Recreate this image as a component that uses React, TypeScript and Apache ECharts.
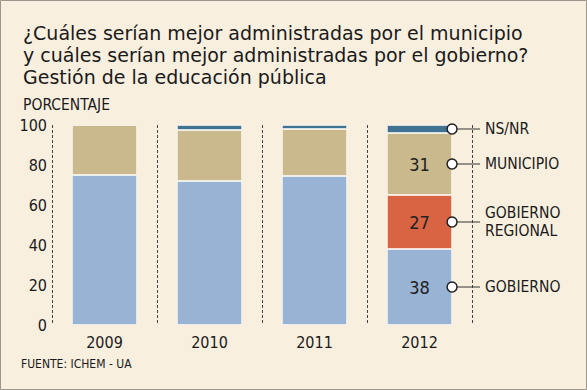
import React, { useEffect, useRef } from "react";
import * as echarts from "echarts";

const categories = ["2009", "2010", "2011", "2012"];
const gobierno = [75, 72, 74.5, 38];
const gobiernoRegional = [0, 0, 0, 27];
const municipio = [25, 25.5, 23.5, 31];
const nsnr = [0, 2.5, 2, 4];
const yTicks = [0, 20, 40, 60, 80, 100];
const legendNames = ["GOBIERNO", "GOBIERNO\nREGIONAL", "MUNICIPIO", "NS/NR"];
const titleLines = [
  "¿Cuáles serían mejor administradas por el municipio",
  "y cuáles serían mejor administradas por el gobierno?",
  "Gestión de la educación pública",
];

const FONT = "DejaVu Sans Condensed, Liberation Sans, sans-serif";
const TITLE_FONT = "DejaVu Sans, Verdana, sans-serif";
const BG = "#f9efdf";

export default function App() {
  const ref = useRef<HTMLDivElement>(null);
  useEffect(() => {
    document.body.style.margin = "0";
    const chart = echarts.init(ref.current!, undefined, { renderer: "svg" });
    const last = categories.length - 1;
    const withLabel = (arr: number[]) =>
      arr.map((v, i) =>
        i === last
          ? { value: v, label: { show: true } }
          : { value: v === 0 ? null : v }
      );
    const common = {
      type: "bar" as const,
      stack: "total",
      barWidth: "62%",
      label: {
        show: false,
        position: "inside",
        fontSize: 18,
        color: "#222",
        fontFamily: FONT,
      },
      itemStyle: { borderColor: "rgba(255,255,255,0.85)", borderWidth: 0.8 },
    };
    chart.setOption({
      animation: false,
      backgroundColor: BG,
      grid: { left: 52, right: 115, top: 125, bottom: 65 },
      xAxis: {
        type: "category",
        data: categories,
        axisLine: { show: false },
        axisTick: { show: false },
        axisLabel: { fontFamily: FONT, fontSize: 16, color: "#1a1a1a", margin: 9 },
        splitLine: {
          show: true,
          lineStyle: { color: "#444", type: [3, 2], width: 1 },
        },
      },
      yAxis: {
        type: "value",
        min: 0,
        max: 100,
        interval: 20,
        axisLine: { show: false },
        axisTick: { show: false },
        splitLine: { show: false },
        axisLabel: {
          fontFamily: FONT,
          fontSize: 16,
          color: "#1a1a1a",
          margin: 5,
          formatter: (v: number) => (yTicks.includes(v) ? String(v) : ""),
        },
      },
      series: [
        { ...common, name: "GOBIERNO", data: withLabel(gobierno), itemStyle: { ...common.itemStyle, color: "#98b3d3" } },
        { ...common, name: "GOBIERNO REGIONAL", data: withLabel(gobiernoRegional), itemStyle: { ...common.itemStyle, color: "#d96443" } },
        { ...common, name: "MUNICIPIO", data: withLabel(municipio), itemStyle: { ...common.itemStyle, color: "#c9b98c" } },
        {
          ...common,
          name: "NS/NR",
          data: nsnr.map((v) => ({ value: v === 0 ? null : v })),
          itemStyle: { ...common.itemStyle, color: "#3f7293" },
        },
      ],
    });

    // annotations for last category, positioned via the chart's scales
    const segs = [gobierno[last], gobiernoRegional[last], municipio[last], nsnr[last]];
    const cx = chart.convertToPixel({ xAxisIndex: 0 }, categories[last]) as number;
    const x1 = chart.convertToPixel({ xAxisIndex: 0 }, categories[last - 1]) as number;
    const band = cx - x1;
    const edge = cx + (band * 0.62) / 2;
    const lineEnd = edge + 28;
    const elements: any[] = [
      {
        type: "rect",
        shape: { x: 0.5, y: 0.5, width: 586, height: 389 },
        style: { fill: "none", stroke: "#9c968c", lineWidth: 1 },
        silent: true,
      },
      {
        type: "text",
        x: 23,
        y: 105,
        style: { text: "PORCENTAJE", font: `15.5px ${FONT}`, fill: "#1a1a1a", verticalAlign: "middle" },
      },
      {
        type: "text",
        x: 21,
        y: 364,
        style: { text: "FUENTE: ICHEM - UA", font: `12px ${FONT}`, fill: "#1a1a1a", verticalAlign: "middle" },
      },
    ];
    titleLines.forEach((t, i) => {
      elements.push({
        type: "text",
        x: 23,
        y: 32.5 + i * 22,
        style: {
          text: t,
          font: `19px ${TITLE_FONT}`,
          fill: "#1a1a1a",
          verticalAlign: "middle",
        },
      });
    });
    let cum = 0;
    segs.forEach((v, i) => {
      const mid = cum + v / 2;
      cum += v;
      const y = chart.convertToPixel({ yAxisIndex: 0 }, mid) as number;
      elements.push({
        type: "line",
        shape: { x1: edge, y1: y, x2: lineEnd, y2: y },
        style: { stroke: "#333", lineWidth: 1 },
        z: 10,
      });
      elements.push({
        type: "circle",
        shape: { cx: edge, cy: y, r: 5 },
        style: { fill: "#fff", stroke: "#222", lineWidth: 1.5 },
        z: 11,
      });
      const parts = legendNames[i].split("\n");
      parts.forEach((p, j) => {
        elements.push({
          type: "text",
          x: lineEnd + 5,
          y: y + (j - (parts.length - 1) / 2) * 18,
          style: {
            text: p,
            font: `15.5px ${FONT}`,
            fill: "#1a1a1a",
            verticalAlign: "middle",
          },
          z: 11,
        });
      });
    });
    chart.setOption({ graphic: { elements } });
    return () => chart.dispose();
  }, []);
  return (
    <div
      ref={ref}
      style={{ position: "absolute", left: 0, top: 0, width: 587, height: 390 }}
    />
  );
}
